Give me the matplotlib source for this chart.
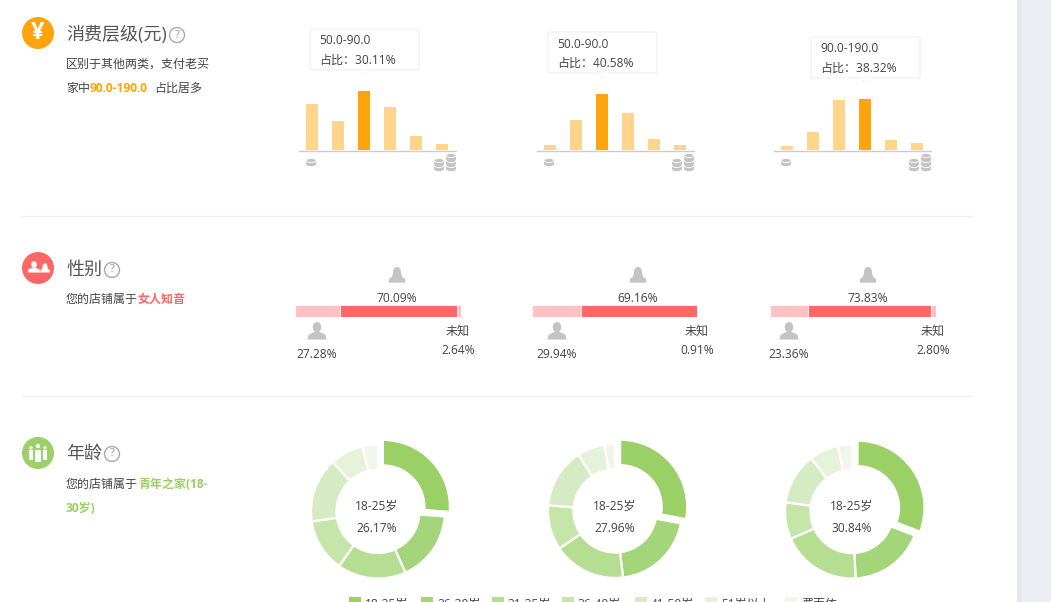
#!/usr/bin/python3

import matplotlib
matplotlib.use("Agg")
import matplotlib.pyplot as plt
from matplotlib.patches import Circle, Rectangle, FancyBboxPatch, Polygon, Ellipse

plt.rcParams["font.family"] = ["Open Sans", "Noto Sans CJK SC", "DejaVu Sans"]

W, H = 1051, 602

# consumption level
price_values = [
    [23.4, 15.0, 30.11, 22.0, 7.3, 2.9],
    [3.5, 21.5, 40.58, 26.8, 8.0, 3.5],
    [3.0, 13.5, 37.6, 38.32, 7.5, 5.3],
]
price_active = [2, 2, 3]
price_ymax = [40.8, 58.0, 60.1]
tip_range = ["50.0-90.0", "50.0-90.0", "90.0-190.0"]
tip_share = ["占比：30.11%", "占比：40.58%", "占比：38.32%"]

# gender
male = [27.28, 29.94, 23.36]
female = [70.09, 69.16, 73.83]
unknown = [2.64, 0.91, 2.80]

# age
age_labels = ["18-25岁", "26-30岁", "31-35岁", "36-40岁", "41-50岁", "51岁以上", "费面依"]
age_values = [
    [26.17, 17.1, 16.6, 12.7, 15.6, 8.1, 3.7],
    [27.96, 20.1, 17.5, 10.8, 14.4, 6.7, 2.5],
    [30.84, 18.3, 19.2, 8.9, 12.4, 7.0, 3.4],
]
age_centre = ["26.17%", "27.96%", "30.84%"]
age_colors = ["#9ad066", "#a5d57b", "#b5de92", "#c5e5a9", "#d5ebc3", "#e6f2da", "#f2f6ea"]

ORANGE = "#ffa40d"
ORANGE_L = "#ffd48c"
RED = "#ff6666"
RED_L = "#ffc1c1"
GREEN = "#9ad066"
GREY = "#c4c4c4"
TEXT = "#444444"

fig = plt.figure(figsize=(W / 100, H / 100), dpi=100, facecolor="white")
bg = fig.add_axes([0, 0, 1, 1])
bg.set_xlim(0, W)
bg.set_ylim(H, 0)
bg.axis("off")


def px_axes(x0, y0, x1, y1):
    ax = fig.add_axes([x0 / W, 1 - y1 / H, (x1 - x0) / W, (y1 - y0) / H])
    ax.axis("off")
    return ax


def label(x, y, s, size=8.64, color=TEXT, ha="center", **kw):
    if ha == "left":
        x -= 1
    bg.text(x, y + 1, s, fontsize=size, color=color, ha=ha, va="center", **kw)


def head(x, y, s, help_x):
    label(x, y - 1, s, size=13, color="#555555", ha="left")
    bg.add_patch(Circle((help_x, y), 7.5, fc="white", ec="#aaaaaa", lw=1))
    label(help_x, y - 1, "?", size=8, color="#999999")


def coins(x, bottom, n):
    # stack of coins drawn bottom up
    for k in range(n):
        y = bottom - k * 5
        bg.add_patch(Ellipse((x, y), 10, 4.5, color=GREY, lw=0))
        bg.add_patch(Rectangle((x - 5, y - 3.5), 10, 3.5, color=GREY, lw=0))
        bg.add_patch(Ellipse((x, y - 3.5), 10, 4, fc=GREY, ec="white", lw=0.6))


def person(x, y, s=1.0, color=GREY, long_hair=False):
    bg.add_patch(Ellipse((x, y - 4 * s), 9 * s, 11 * s, color=color, lw=0))
    if long_hair:
        bg.add_patch(Polygon([(x - 4 * s, y - 5 * s), (x + 4 * s, y - 5 * s),
                              (x + 6.5 * s, y + 4 * s), (x - 6.5 * s, y + 4 * s)],
                             color=color, lw=0))
    bg.add_patch(Polygon([(x - 10 * s, y + 9 * s), (x - 9 * s, y + 4 * s), (x - 3 * s, y + 1 * s),
                          (x + 3 * s, y + 1 * s), (x + 9 * s, y + 4 * s), (x + 10 * s, y + 9 * s)],
                         color=color, lw=0))


# page background and side strip
bg.add_patch(Rectangle((1017, 0), 34, H, color="#ebeff5", lw=0))
bg.add_patch(Rectangle((1017, 0), 5, H, color="#e4e7ed", lw=0))
for y in (216, 396):
    bg.plot([22, 972], [y, y], color="#f0f0f0", lw=1)

# left side icons
for cy, c in ((33, ORANGE), (268, RED), (453, GREEN)):
    bg.add_patch(Circle((38, cy), 16, color=c, lw=0))
label(38, 32, "¥", size=17, color="white", fontweight="bold")
person(34, 267, 0.62, "white")
person(45, 268, 0.5, "white", long_hair=True)
for px, s in ((38, 1.0), (31, 0.75), (45, 0.75)):
    bg.add_patch(Circle((px, 453 - 7 * s), 2.2 * s, color="white", lw=0))
    bg.add_patch(Rectangle((px - 2.8 * s, 453 - 3.5 * s), 5.6 * s, 11 * s + 1, color="white", lw=0))

head(67, 35, "消费层级(元)", 177)
label(67, 63, "区别于其他两类，支付老买", ha="left")
label(67, 87, "家中", ha="left")
label(91, 87, "90.0-190.0", color=ORANGE, ha="left", fontweight="bold")
label(155, 87, "占比居多", ha="left")

head(67, 270, "性别", 112)
label(67, 298, "您的店铺属于", ha="left")
label(139, 298, "女人知音", color=RED, ha="left", fontweight="bold")

head(67, 454, "年龄", 112)
label(67, 483, "您的店铺属于", ha="left")
label(139, 483, "青年之家(18-", color=GREEN, ha="left", fontweight="bold")
label(67, 507, "30岁)", color=GREEN, ha="left", fontweight="bold")

# consumption bars
bar_x0 = [299, 537, 774]
tip_x = [310, 548, 811]
tip_y = [29, 32, 37]
for i in range(3):
    ax = px_axes(bar_x0[i], 70, bar_x0[i] + 157, 150)
    colors = [ORANGE if k == price_active[i] else ORANGE_L for k in range(6)]
    ax.bar(range(6), price_values[i], width=0.46, color=colors)
    ax.set_xlim(-0.5, 5.54)
    ax.set_ylim(0, price_ymax[i])
    bg.plot([bar_x0[i], bar_x0[i] + 157], [150.5, 150.5], color="#cccccc", lw=1)

    # tooltip
    tx, ty = tip_x[i], tip_y[i]
    mid = bar_x0[i] + 13 + 26 * price_active[i]
    bg.add_patch(FancyBboxPatch((tx, ty), 109, 41, boxstyle="round,pad=0,rounding_size=2",
                                fc="white", ec="#f0f0f0", lw=0.8))
    bg.add_patch(Polygon([(mid - 5, ty + 41), (mid, ty + 46), (mid + 5, ty + 41)],
                         fc="white", ec="#f4f4f4", lw=0.6))
    bg.plot([mid - 4.5, mid + 4.5], [ty + 41, ty + 41], color="white", lw=1)
    label(tx + 10, ty + 11, tip_range[i], ha="left")
    label(tx + 10, ty + 30, tip_share[i], ha="left")

    coins(bar_x0[i] + 12, 164, 1)
    coins(bar_x0[i] + 140, 169, 2)
    coins(bar_x0[i] + 152, 169, 3)

# gender bars
gender_x0 = [294.5, 531.5, 769.5]
top_x = [397, 638, 868]
male_x = [317, 557, 789]
unk_x = [458, 697, 933]
for i in range(3):
    ax = px_axes(gender_x0[i], 305, gender_x0[i] + 166.5, 317)
    ax.barh(0, male[i], color=RED_L, edgecolor="white", lw=0.6, height=1)
    ax.barh(0, female[i], left=male[i], color=RED, edgecolor="white", lw=0.6, height=1)
    ax.barh(0, unknown[i], left=male[i] + female[i], color=RED_L, edgecolor="white", lw=0.6, height=1)
    ax.set_xlim(0, 100)
    ax.set_ylim(-0.5, 0.5)
    person(top_x[i], 275, 0.85, long_hair=True)
    label(top_x[i], 297, f"{female[i]:.2f}%")
    person(male_x[i], 331, 0.95)
    label(male_x[i], 354, f"{male[i]:.2f}%")
    label(unk_x[i], 330, "未知")
    label(unk_x[i], 349, f"{unknown[i]:.2f}%")

# age donuts
donut_c = [(378, 511.5), (615, 511), (852, 511.5)]
centre_x = [377, 615, 852]
for i in range(3):
    cx, cy = donut_c[i]
    r = 67 * 1.2
    ax = px_axes(cx - r, cy - r, cx + r, cy + r)
    ax.pie(age_values[i], colors=age_colors, startangle=90, counterclock=False, radius=1,
           explode=[0.1, 0, 0, 0, 0, 0, 0],
           wedgeprops=dict(width=0.38, edgecolor="white", lw=1.6))
    ax.set_xlim(-1.2, 1.2)
    ax.set_ylim(-1.2, 1.2)
    label(centre_x[i], 505, "18-25岁")
    label(centre_x[i], 528, age_centre[i])

# legend, the screenshot ends in the middle of it
leg_x = [349, 421, 492, 562, 635, 705, 785]
for lx, c, s in zip(leg_x, age_colors, age_labels):
    bg.add_patch(Rectangle((lx, 597), 12, 12, color=c, lw=0))
    label(lx + 17, 603, s, ha="left")

fig.savefig("out.png", dpi=100)
